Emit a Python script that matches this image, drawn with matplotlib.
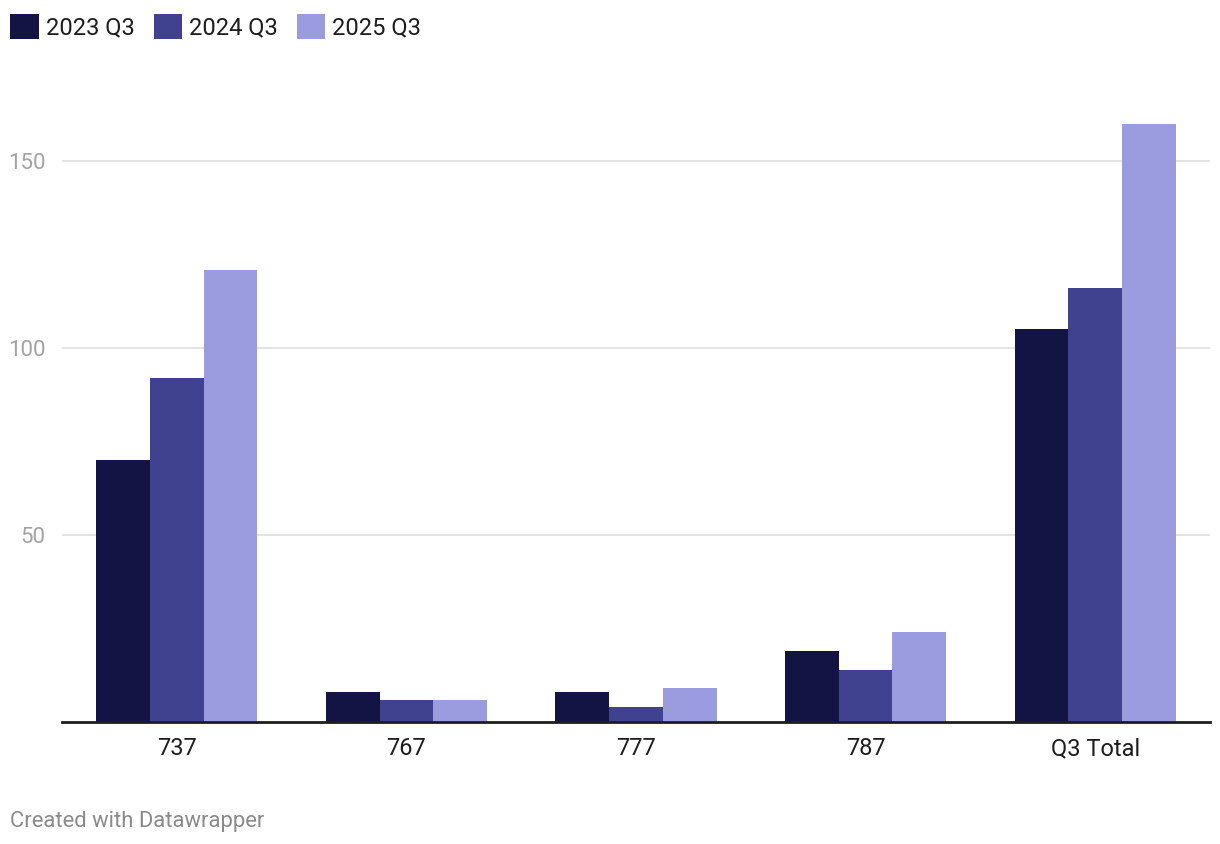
"""Boeing commercial deliveries by program, Q3 comparison (Datawrapper-style bars)."""
import numpy as np
import matplotlib
matplotlib.use("Agg")
import matplotlib.pyplot as plt

categories = ["737", "767", "777", "787", "Q3 Total"]
series_names = ["2023 Q3", "2024 Q3", "2025 Q3"]
q3_2023 = [70, 8, 8, 19, 105]
q3_2024 = [92, 6, 4, 14, 116]
q3_2025 = [121, 6, 9, 24, 160]
y_ticks = [50, 100, 150]

colors = ["#131443", "#40428f", "#9b9be0"]

plt.rcParams["font.family"] = ["Roboto", "DejaVu Sans"]

fig = plt.figure(figsize=(12.2, 8.44), dpi=100)
ax = fig.add_axes([62 / 1220, 1 - 722 / 844, 1148 / 1220, 617 / 844])

x = np.arange(len(categories))
width = 0.234
handles = []
for i, (name, vals) in enumerate(zip(series_names, [q3_2023, q3_2024, q3_2025])):
    h = ax.bar(x + (i - 1) * width, vals, width=width, color=colors[i],
               label=name, zorder=3, linewidth=0)
    handles.append(h)

ax.set_xlim(-0.5, 4.5)
ax.set_ylim(0, 165)
ax.set_yticks(y_ticks)
ax.set_yticklabels([str(t) for t in y_ticks])
ax.set_xticks(x)
ax.set_xticklabels(categories)

ax.grid(axis="y", color="#e3e3e3", linewidth=1.4, zorder=0)
for side in ["top", "right", "left"]:
    ax.spines[side].set_visible(False)
ax.spines["bottom"].set_color("#1d1d1d")
ax.spines["bottom"].set_linewidth(2)
ax.spines["bottom"].set_zorder(4)

ax.tick_params(axis="y", length=0, pad=12, labelsize=16, labelcolor="#a3a3a3")
ax.tick_params(axis="x", length=0, pad=11, labelsize=17, labelcolor="#1d1d1d")

fig.legend(handles=handles, labels=series_names, loc="upper left",
           bbox_to_anchor=(1 / 1220, 1 - 5 / 844), ncol=3, frameon=False,
           fontsize=17, handlelength=1.2, handleheight=1.2,
           handletextpad=0.3, columnspacing=0.8, borderaxespad=0,
           labelcolor="#1d1d1d")

fig.text(10 / 1220, 1 - 821 / 844, "Created with Datawrapper", fontsize=15.8,
         color="#8a8a8a", va="center", ha="left")

fig.savefig("out.png", dpi=100, facecolor="white")
